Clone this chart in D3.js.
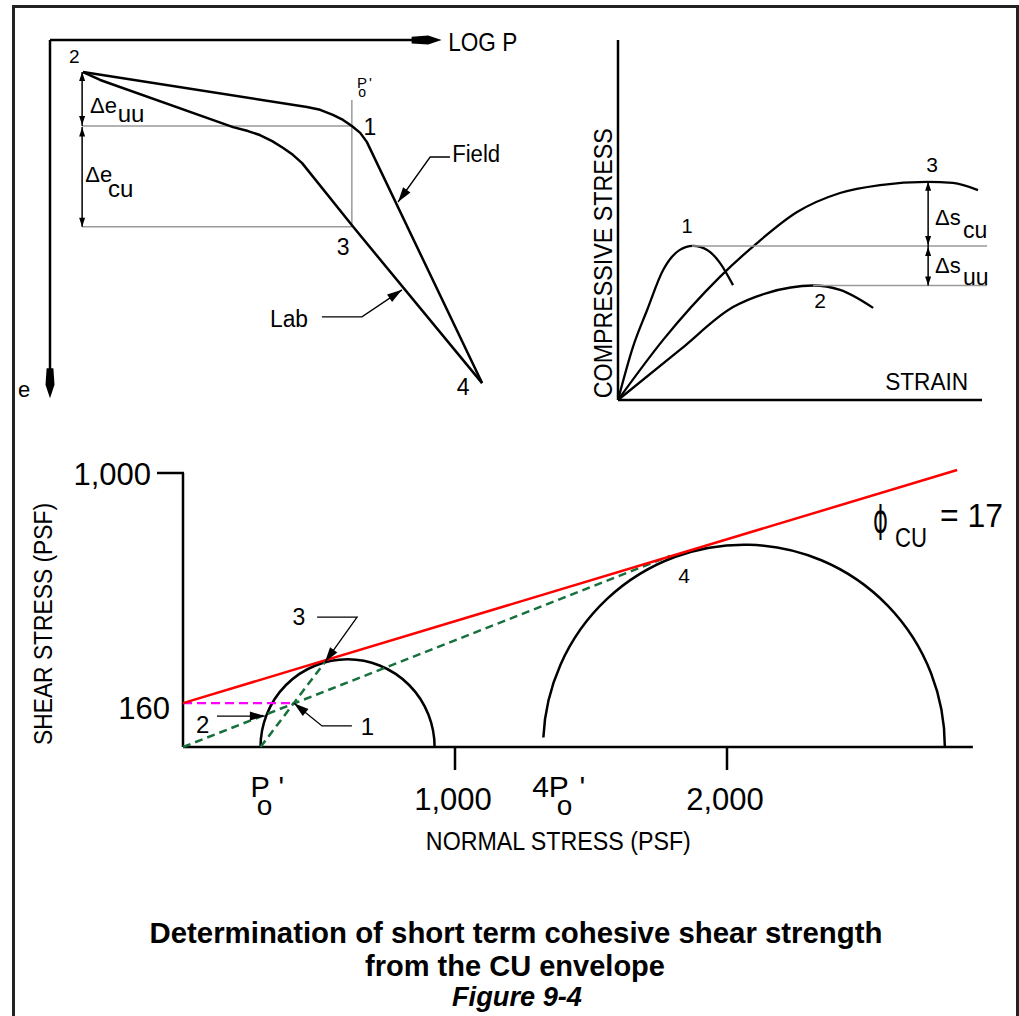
<!DOCTYPE html>
<html><head><meta charset="utf-8">
<script src="https://cdn.jsdelivr.net/npm/d3@7"></script>
<style>
body{margin:0;background:#fff}
svg{display:block}
text{font-family:"Liberation Sans",Arial,Helvetica,sans-serif;fill:#000}
</style></head>
<body><svg id="c" width="1019" height="1016"></svg>
<script>
// ================= DATA =================
// Panel 1: e - log P (abstract units: logP 0..100, e 0..100 downward)
const fieldCurve = [[7.5,8.9],[58.4,18.6],[61.4,19.4],[64.3,20.8],[66.6,22.2],[68.6,23.9],[70.5,25.8],[72.0,28.3],[98.2,95.3]];
const labCurve   = [[7.5,8.9],[11.4,11.1],[41.6,24.2],[45,25.3],[47.7,26.4],[50.5,28.1],[53,30],[55.2,31.9],[57.3,34.2],[68.9,51.9],[98.2,95.3]];
const poPrimeLogP = 68.6;
const eLevels = [8.9, 23.9, 51.9];          // e at point 2, point 1, point 3
const elogPointLabels = [
  {t:"2", u:5.5,  v:6.4,  fs:19},
  {t:"1", u:72.7, v:26.4, fs:23},
  {t:"3", u:66.6, v:59.7, fs:23},
  {t:"4", u:93.9, v:98.6, fs:23}
];
const fieldLeader = [[90.9,32.5],[86.4,32.5],[79.1,45]];
const labLeader   = [[61.8,76.9],[70.9,76.9],[80,69.4]];

// Panel 2: stress-strain (strain 0..100, stress 0..100)
const curve1 = [[0,0],[4.1,14.7],[8.0,25],[12.4,36.1],[17,41.7],[20.6,42.8],[24.5,41.7],[28.0,38.1],[31.6,31.9]];
const curve2 = [[0,0],[17,13.9],[31.6,25.8],[40.9,29.7],[53.6,31.8],[61.0,30.6],[70.1,25.6]];
const curve3 = [[0,0],[12.4,16.7],[28.0,34.2],[38.2,43.6],[49.2,52.2],[61.0,57.5],[72.0,59.7],[84.9,60.6],[92.0,60.3],[98.9,58.3]];
const peakStress = [42.8, 31.8, 60.6];     // peaks of curves 1, 2, 3
const peakStrain = [20.3, 53.6, 85.2];
const ssPointLabels = [
  {t:"1", u:19,   v:46.4, fs:20},
  {t:"2", u:55.5, v:25.6, fs:21},
  {t:"3", u:86.3, v:63.3, fs:21}
];

// Panel 3: Mohr circles (PSF)
const xTicks = [1000, 2000];
const xTickLabels = ["1,000", "2,000"];
const yTicks = [1000];
const yTickLabels = ["1,000"];
const cohesion = 160;
const phiCU = 17;
const envelope = [[0,160],[2846,1011]];
const circles = [{s3:285, s1:925, start:180}, {s3:1324, s1:2801, start:177.3}];
const tangent3 = [522,310];
const tangent4 = [1790,697];
const point1 = [408,160];
const greenA = [[0,0], tangent4];
const greenB = [[285,0], tangent3];
const magentaLine = [[0,cohesion], point1];
const mohrLabels = [
  {t:"3", s:426, tau:445, fs:23},
  {t:"1", s:678, tau:44,  fs:24},
  {t:"2", s:72,  tau:51,  fs:24},
  {t:"4", s:1842,tau:599, fs:21}
];
const leader3 = [[493,474],[640,474],tangent3];
const leader1 = [[621,77],[511,77],point1];
const leader2 = [[125,113],[301,113]];

// ================= DRAW =================
const svg = d3.select("#c");
const K = "#000";

function txt(g, x, y, s, o={}){
  const t = g.append("text").attr("x",x).attr("y",y).text(s)
    .attr("font-size", o.fs||22)
    .attr("text-anchor", o.anchor||"start");
  if(o.bold) t.attr("font-weight","bold");
  if(o.italic) t.attr("font-style","italic");
  if(o.family) t.style("font-family",o.family);
  if(o.len) t.attr("textLength",o.len).attr("lengthAdjust","spacingAndGlyphs");
  if(o.rot) t.attr("transform",`rotate(${o.rot},${x},${y})`);
  return t;
}
function subPrime(g, x, y, main, fs, sub, sfs, sdx, sdy, pdx){
  const t = g.append("text").attr("x",x).attr("y",y).attr("font-size",fs);
  t.append("tspan").text(main);
  t.append("tspan").attr("dx",sdx).attr("dy",sdy).attr("font-size",sfs).text(sub);
  t.append("tspan").attr("dx",pdx).attr("dy",-sdy).text("'");
  return t;
}
function arrowHead(g, tip, from, len, hw){
  const dx=tip[0]-from[0], dy=tip[1]-from[1], d=Math.hypot(dx,dy), ux=dx/d, uy=dy/d;
  const bx=tip[0]-ux*len, by=tip[1]-uy*len;
  g.append("path").attr("d",`M${tip[0]},${tip[1]}L${bx-uy*hw},${by+ux*hw}L${bx+uy*hw},${by-ux*hw}Z`).attr("fill",K);
}
function bigArrow(g, tip, dir, len, hw){
  const [ux,uy]=dir, px=-uy, py=ux;
  const P=(a,b)=>[tip[0]-ux*a+px*b, tip[1]-uy*a+py*b];
  const pts=[P(0,0),P(len*0.45,hw),P(len,hw*0.75),P(len,-hw*0.75),P(len*0.45,-hw)];
  g.append("path").attr("d","M"+pts.map(p=>p.join(",")).join("L")+"Z").attr("fill",K);
}
function seg(g, a, b, w, c, dash){
  const l=g.append("line").attr("x1",a[0]).attr("y1",a[1]).attr("x2",b[0]).attr("y2",b[1])
    .attr("stroke",c||K).attr("stroke-width",w||2.5);
  if(dash) l.attr("stroke-dasharray",dash);
  return l;
}

// Frame
const frame = svg.append("g");
seg(frame,[12,6.5],[1019,6.5],3,"#222");
seg(frame,[13.5,5],[13.5,1016],3,"#222");
seg(frame,[1017.5,5],[1017.5,1016],3,"#222");

// ---------- Panel 1 ----------
const x1 = d3.scaleLinear().domain([0,100]).range([50,490]);
const y1 = d3.scaleLinear().domain([0,100]).range([40,400]);
const p1 = svg.append("g");
seg(p1,[x1(0),y1(0)],[x1(84),y1(0)],2.5);
bigArrow(p1,[x1(89),y1(0)],[1,0],30,4.5);
txt(p1,x1(90.5),y1(0)+11,"LOG P",{fs:25,len:69});
seg(p1,[x1(0),y1(0)],[x1(0),y1(92)],2.5);
bigArrow(p1,[x1(0),y1(99.5)],[0,1],30,4.5);
txt(p1,x1(-7.3),y1(99.2),"e",{fs:22});
const gray="#9a9a9a";
seg(p1,[x1(poPrimeLogP),y1(16.7)],[x1(poPrimeLogP),y1(eLevels[2])],1.5,gray);
seg(p1,[x1(7.3),y1(eLevels[1])],[x1(poPrimeLogP),y1(eLevels[1])],1.5,gray);
seg(p1,[x1(7.3),y1(eLevels[2])],[x1(poPrimeLogP),y1(eLevels[2])],1.5,gray);
const line1 = d3.line().x(d=>x1(d[0])).y(d=>y1(d[1])).curve(d3.curveLinear);
p1.append("path").attr("d",line1(fieldCurve)).attr("fill","none").attr("stroke",K).attr("stroke-width",2.5).attr("stroke-linejoin","round");
p1.append("path").attr("d",line1(labCurve)).attr("fill","none").attr("stroke",K).attr("stroke-width",2.5).attr("stroke-linejoin","round");
const ax = x1(7.3);
seg(p1,[ax,y1(eLevels[0])],[ax,y1(eLevels[1])],1.5);
seg(p1,[ax,y1(eLevels[1])+1],[ax,y1(eLevels[2])],1.5);
arrowHead(p1,[ax,y1(eLevels[0])],[ax,y1(eLevels[1])],9,3);
arrowHead(p1,[ax,y1(eLevels[1])-1],[ax,y1(eLevels[0])],9,3);
arrowHead(p1,[ax,y1(eLevels[1])+1.5],[ax,y1(eLevels[2])],9,3);
arrowHead(p1,[ax,y1(eLevels[2])],[ax,y1(eLevels[1])],9,3);
txt(p1,x1(9.1),y1(20.3),"Δe",{fs:22});
txt(p1,x1(15.4),y1(22.8),"uu",{fs:24});
txt(p1,x1(8),y1(39.4),"Δe",{fs:22});
txt(p1,x1(13.2),y1(43.6),"cu",{fs:24});
subPrime(p1,x1(69.8),y1(13.3),"P",15,"o",14,-9,9,3);
elogPointLabels.forEach(d=>txt(p1,x1(d.u),y1(d.v),d.t,{fs:d.fs,anchor:"middle"}));
const lin = d3.line().x(d=>x1(d[0])).y(d=>y1(d[1]));
p1.append("path").attr("d",lin(fieldLeader)).attr("fill","none").attr("stroke",K).attr("stroke-width",1.3);
arrowHead(p1,[x1(fieldLeader[2][0]),y1(fieldLeader[2][1])],[x1(fieldLeader[1][0]),y1(fieldLeader[1][1])],15,4.5);
txt(p1,x1(91.4),y1(33.9),"Field",{fs:23,len:48});
p1.append("path").attr("d",lin(labLeader)).attr("fill","none").attr("stroke",K).attr("stroke-width",1.3);
arrowHead(p1,[x1(labLeader[2][0]),y1(labLeader[2][1])],[x1(labLeader[1][0]),y1(labLeader[1][1])],15,4.5);
txt(p1,x1(50),y1(79.7),"Lab",{fs:23,len:38});

// ---------- Panel 2 ----------
const x2 = d3.scaleLinear().domain([0,100]).range([618,982]);
const y2 = d3.scaleLinear().domain([0,100]).range([400,40]);
const p2 = svg.append("g");
seg(p2,[x2(0),y2(0)],[x2(0),y2(100)],2.5);
seg(p2,[x2(0),y2(0)],[x2(100),y2(0)],2.5);
const line2 = d3.line().x(d=>x2(d[0])).y(d=>y2(d[1])).curve(d3.curveMonotoneX);
[curve1,curve2,curve3].forEach(c=>p2.append("path").attr("d",line2(c)).attr("fill","none").attr("stroke",K).attr("stroke-width",2.3));
seg(p2,[x2(peakStrain[0]),y2(peakStress[0])],[x2(101.4),y2(peakStress[0])],1.5,gray);
seg(p2,[x2(peakStrain[1]),y2(peakStress[1])],[x2(101.4),y2(peakStress[1])],1.5,gray);
const sx = x2(peakStrain[2]);
seg(p2,[sx,y2(peakStress[2])],[sx,y2(peakStress[0])],1.5);
seg(p2,[sx,y2(peakStress[0])],[sx,y2(peakStress[1])],1.5);
arrowHead(p2,[sx,y2(peakStress[2])],[sx,y2(peakStress[0])],9,3);
arrowHead(p2,[sx,y2(peakStress[0])-1],[sx,y2(peakStress[2])],9,3);
arrowHead(p2,[sx,y2(peakStress[0])+1],[sx,y2(peakStress[1])],9,3);
arrowHead(p2,[sx,y2(peakStress[1])],[sx,y2(peakStress[0])],9,3);
txt(p2,x2(87.1),y2(48.6),"Δs",{fs:22});
txt(p2,x2(94.8),y2(45),"cu",{fs:23});
txt(p2,x2(87.1),y2(35.3),"Δs",{fs:22});
txt(p2,x2(94.8),y2(31.9),"uu",{fs:23});
ssPointLabels.forEach(d=>txt(p2,x2(d.u),y2(d.v),d.t,{fs:d.fs,anchor:"middle"}));
txt(p2,x2(73.4),y2(2.8),"STRAIN",{fs:24,len:83});
txt(p2,x2(-1.6),y2(38),"COMPRESSIVE STRESS",{fs:25,len:270,anchor:"middle",rot:-90});

// ---------- Panel 3 ----------
const x3 = d3.scaleLinear().domain([0,1000]).range([183,455]);
const y3 = d3.scaleLinear().domain([0,1000]).range([747,473]);
const p3 = svg.append("g");
seg(p3,[x3(0),y3(0)],[x3(0),y3(1000)],2.5);
yTicks.forEach((v,i)=>{
  seg(p3,[x3(0)-26,y3(v)],[x3(0)+1,y3(v)],2.5);
  txt(p3,x3(0)-32,y3(v)+12,yTickLabels[i],{fs:31,anchor:"end"});
});
txt(p3,x3(0)-13,y3(cohesion)+16,String(cohesion),{fs:31,anchor:"end"});
seg(p3,[x3(0),y3(0)],[x3(2904),y3(0)],2.5);
xTicks.forEach((v,i)=>{
  seg(p3,[x3(v),y3(0)],[x3(v),y3(0)+23],2.5);
  txt(p3,x3(v)-2,y3(0)+63,xTickLabels[i],{fs:31,anchor:"middle"});
});
circles.forEach(c=>{
  const cx=(c.s1+c.s3)/2, r=(c.s1-c.s3)/2, a=c.start*Math.PI/180;
  const sxp=cx+r*Math.cos(a), syp=r*Math.sin(a);
  const rx=x3(cx+r)-x3(cx), ry=y3(0)-y3(r);
  p3.append("path").attr("d",`M${x3(sxp)},${y3(syp)}A${rx},${ry} 0 0 1 ${x3(c.s1)},${y3(0)}`)
    .attr("fill","none").attr("stroke",K).attr("stroke-width",2.5);
});
const line3 = d3.line().x(d=>x3(d[0])).y(d=>y3(d[1]));
const green="#16703c";
p3.append("path").attr("d",line3(greenA)).attr("stroke",green).attr("stroke-width",2.5).attr("stroke-dasharray","8,5").attr("fill","none");
p3.append("path").attr("d",line3(greenB)).attr("stroke",green).attr("stroke-width",2.5).attr("stroke-dasharray","8,5").attr("fill","none");
p3.append("path").attr("d",line3(magentaLine)).attr("stroke","#ff00ff").attr("stroke-width",2.2).attr("stroke-dasharray","9,5").attr("fill","none");
p3.append("path").attr("d",line3(envelope)).attr("stroke","#ff0000").attr("stroke-width",2.5).attr("fill","none");
p3.append("path").attr("d",line3(leader3)).attr("fill","none").attr("stroke",K).attr("stroke-width",1.3);
arrowHead(p3,[x3(tangent3[0]),y3(tangent3[1])],[x3(leader3[1][0]),y3(leader3[1][1])],15,4.5);
p3.append("path").attr("d",line3(leader1)).attr("fill","none").attr("stroke",K).attr("stroke-width",1.3);
arrowHead(p3,[x3(point1[0]),y3(point1[1])],[x3(leader1[1][0]),y3(leader1[1][1])],15,4.5);
p3.append("path").attr("d",line3(leader2)).attr("fill","none").attr("stroke",K).attr("stroke-width",1.3);
arrowHead(p3,[x3(leader2[1][0]),y3(leader2[1][1])],[x3(leader2[0][0]),y3(leader2[0][1])],15,4.5);
mohrLabels.forEach(d=>txt(p3,x3(d.s),y3(d.tau),d.t,{fs:d.fs,anchor:"middle"}));
// phi label
txt(p3,x3(2537),y3(783),"ϕ",{fs:38,family:"'DejaVu Sans',sans-serif",len:15});
txt(p3,x3(2618),y3(730),"CU",{fs:27,len:32});
txt(p3,x3(2783),y3(803),"= "+phiCU,{fs:34,len:63});
// Po' and 4Po'
const by = y3(0)+50;
subPrime(p3,x3(circles[0].s3)-10,by,"P",29,"o",28,-13,18,6);
subPrime(p3,x3(circles[1].s3)-11,by,"4P",30,"o",28,-12,18,7);
txt(p3,x3(1380),y3(0)+103,"NORMAL STRESS (PSF)",{fs:25,len:265,anchor:"middle"});
txt(p3,52,624,"SHEAR STRESS (PSF)",{fs:25,len:242,anchor:"middle",rot:-90});

// ---------- Caption ----------
txt(svg,516,943,"Determination of short term cohesive shear strength",{fs:29,bold:true,anchor:"middle",len:733});
txt(svg,515,976,"from the CU envelope",{fs:29,bold:true,anchor:"middle",len:300});
txt(svg,517,1006,"Figure 9-4",{fs:27,bold:true,italic:true,anchor:"middle",len:130});
</script>
</body></html>
